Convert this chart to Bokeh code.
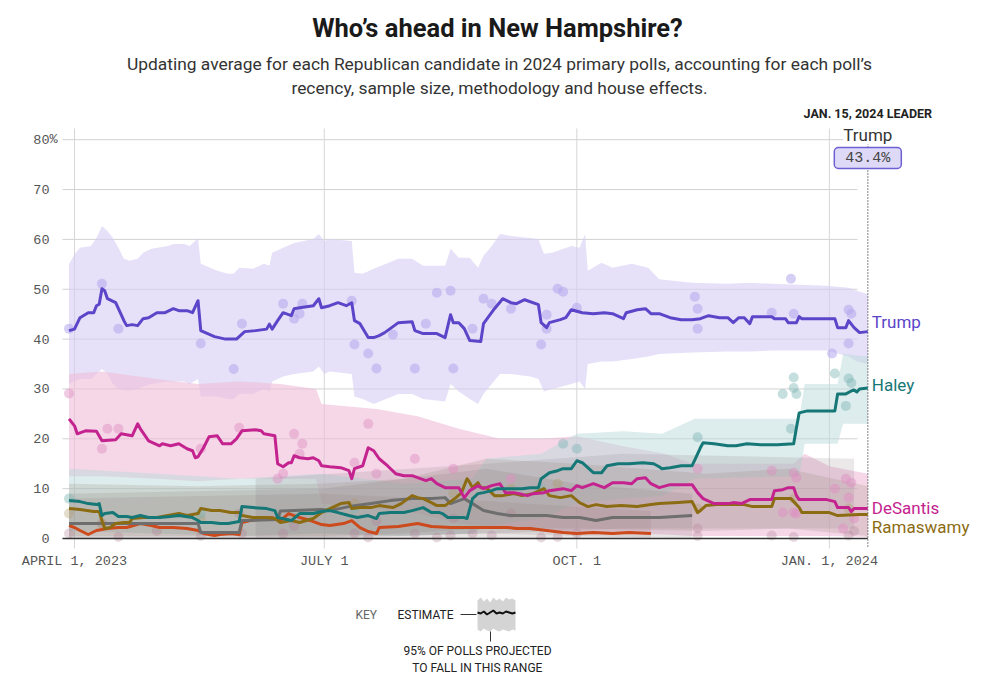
import numpy as np
from bokeh.plotting import figure
from bokeh.models import Range1d, Label
from bokeh.core.properties import value
from bokeh.embed import file_html
from bokeh.resources import INLINE

# ---------------- data (days counted from 2023-04-01) ----------------
START_DATE = "2023-04-01"
LEADER_DAY = 289                      # Jan. 15, 2024
LEADER_NAME = "Trump"
LEADER_TEXT = "43.4%"

x_tick_days = [0, 91, 183, 275]
x_tick_labels = ["APRIL 1, 2023", "JULY 1", "OCT. 1", "JAN. 1, 2024"]
y_ticks = [0, 10, 20, 30, 40, 50, 60, 70, 80]

trump_days = [-2,0,2,5,7,8,9,10,11,12,15,18,19,21,23,25,27,30,33,36,38,41,43,45,46,51,55,59,62,66,
              70,71,72,74,76,79,80,82,87,89,90,93,96,99,101,102,104,107,109,111,113,115,118,123,124,127,132,135,137,138,
              140,142,144,148,149,153,156,159,161,164,169,170,172,173,177,179,181,185,189,193,196,200,201,205,208,210,213,217,221,225,
              228,231,235,238,240,242,244,246,247,254,255,259,260,263,264,265,277,278,281,282,284,286,289]
trump_vals = [41.7,42.0,44.3,45.3,45.3,46.7,47.0,50.1,49.7,48.1,47.3,43.7,42.7,42.9,42.7,44.1,44.3,45.3,45.3,46.1,45.7,45.7,45.3,47.7,41.7,40.5,40.0,40.0,41.5,41.7,
              42.0,43.0,42.0,43.7,45.3,44.7,46.1,46.3,46.7,48.1,46.3,46.7,47.3,46.7,47.3,43.7,43.1,40.3,40.3,40.7,41.3,42.1,43.3,43.5,41.7,41.1,41.1,40.3,44.9,43.3,
              43.3,42.1,39.7,39.5,43.1,46.1,48.1,47.3,47.1,47.9,46.9,43.3,42.3,43.3,43.9,44.3,45.9,45.3,45.1,45.3,45.1,44.1,45.3,45.9,46.1,45.1,45.1,44.3,43.9,43.9,
              44.1,44.7,44.3,44.3,43.3,44.3,44.3,43.1,44.5,44.5,44.1,44.1,43.3,43.3,44.5,44.1,44.1,42.3,42.3,43.7,42.3,41.3,41.5]

desantis_days = [-2,0,1,4,8,10,15,17,21,23,24,27,31,32,35,38,41,43,44,45,47,49,52,54,57,59,61,66,68,69,71,73,74,76,78,79,80,82,85,87,
                 89,90,93,97,100,101,102,105,107,109,111,114,117,120,123,125,128,130,132,135,140,142,144,147,149,152,155,157,160,162,
                 165,167,171,173,178,181,183,185,189,193,196,200,203,205,208,210,213,217,225,227,229,233,238,240,243,246,254,255,258,260,
                 262,263,264,274,277,278,282,283,284,286,289]
desantis_vals = [24.0,22.6,21.0,21.6,21.5,19.6,19.8,21.0,20.6,23.0,22.0,19.6,18.6,19.0,18.6,19.0,18.0,17.6,16.2,16.4,18.2,20.4,20.6,19.0,19.0,20.0,21.6,21.8,21.6,21.0,20.8,20.6,15.0,14.4,15.2,15.2,16.6,16.2,16.0,16.2,
                 15.6,14.6,14.4,14.2,13.6,12.0,14.0,14.6,18.2,17.6,16.0,14.6,13.0,12.6,12.6,12.2,11.6,12.0,11.0,10.2,10.2,8.2,9.6,10.6,10.0,10.6,11.0,9.2,9.2,9.0,
                 8.6,9.0,9.2,9.6,10.0,9.6,10.6,10.2,11.0,10.2,11.2,11.2,11.0,12.0,12.2,11.0,10.2,10.8,10.8,9.2,8.0,7.0,7.0,7.2,7.0,7.8,7.8,9.6,9.8,10.2,
                 10.2,8.6,7.8,7.8,7.4,6.2,6.2,5.4,6.0,6.0,6.0]

haley_days = [-2,2,5,8,9,10,11,14,16,19,21,24,27,31,35,38,43,45,46,50,53,56,58,60,61,65,70,73,74,79,82,87,90,93,96,100,103,107,110,111,
              115,120,123,127,130,133,134,136,139,142,143,145,147,149,152,154,159,163,166,169,170,173,176,178,181,183,185,189,192,194,
              198,202,207,211,213,214,217,221,225,227,228,229,233,238,241,245,250,256,262,263,264,267,277,278,281,283,284,285,286,289]
haley_vals = [7.6,7.4,7.0,6.8,7.0,4.6,5.0,5.2,4.4,4.4,4.2,4.6,4.2,4.2,4.4,4.6,4.2,3.6,3.2,3.2,3.0,3.0,3.2,3.4,6.4,6.2,6.0,5.6,4.2,3.6,5.0,5.0,5.4,5.6,5.2,4.6,4.2,4.6,4.0,5.0,
              5.2,5.2,5.6,6.2,5.2,5.2,5.0,4.2,4.2,4.2,4.0,8.0,9.0,9.2,9.6,10.0,10.0,10.0,10.2,10.2,12.0,13.2,13.6,14.0,14.0,15.6,15.2,13.2,13.2,14.6,
              15.0,15.0,15.2,15.0,14.4,14.0,14.2,14.6,14.6,17.0,18.2,19.2,19.0,18.6,18.6,19.0,18.8,18.8,19.0,22.2,25.2,25.6,25.6,29.0,29.0,29.6,29.8,29.4,30.0,30.2]

ramaswamy_days = [-2,2,7,9,10,11,13,15,18,20,21,25,30,34,38,41,45,46,50,53,57,60,61,65,70,73,75,79,82,87,90,93,97,100,101,104,108,111,116,119,
                  123,125,127,130,132,135,139,141,143,144,145,147,148,150,153,156,160,163,167,171,173,177,181,184,187,190,194,199,205,210,
                  213,220,225,227,228,230,234,244,247,254,255,261,264,265,275,278,286,289]
ramaswamy_vals = [6.0,5.8,5.4,5.4,3.6,2.0,2.2,3.0,3.2,3.2,4.0,4.2,4.2,4.6,5.0,4.6,5.0,6.0,5.6,5.6,5.2,5.2,4.6,4.2,4.2,4.0,3.2,3.6,3.2,4.0,5.2,6.0,7.0,7.2,6.0,6.2,6.2,6.6,6.2,7.0,
                  8.6,8.2,8.0,7.2,6.6,6.6,8.2,9.2,12.0,11.2,10.2,11.2,10.2,10.2,8.6,8.6,9.0,8.6,9.0,10.0,8.6,8.2,8.6,7.2,6.4,6.8,6.4,6.6,6.4,6.8,
                  7.0,7.2,7.4,5.2,5.6,6.6,6.8,6.8,6.4,6.4,8.0,8.0,6.2,5.2,5.2,4.6,4.8,4.8]

scott_days = [-2,45,46,60,61,74,75,90,93,100,108,115,123,130,135,137,140,142,145,149,154,159,166,172,178,184,190,196,202,209,213,219,225]
scott_vals = [3.0,3.0,1.2,1.2,3.6,3.8,5.5,5.8,5.6,6.4,7.0,7.6,8.0,8.0,8.2,7.0,7.6,8.0,7.0,5.6,5.0,4.6,4.6,4.6,4.2,4.2,3.6,4.2,4.2,4.2,4.2,4.4,4.6]

pence_days = [-2,0,2,5,8,12,16,19,24,28,31,36,41,45,47,51,53,57,60,61,64,69,72,75,78,80,82,86,90,93,
              98,101,104,107,110,111,118,125,130,137,144,152,158,161,166,172,178,183,189,196,202,210]
pence_vals = [2.6,2.2,1.6,0.8,1.6,2.0,2.2,2.2,3.0,2.6,2.2,2.2,2.0,1.6,1.0,0.6,0.8,1.0,0.8,3.2,3.6,4.0,4.2,3.6,5.0,4.6,4.2,3.6,2.8,2.6,
              3.0,3.6,2.2,1.4,1.0,2.2,2.4,3.0,2.4,2.2,2.2,2.2,2.2,2.0,2.0,1.6,1.2,1.0,1.2,1.0,1.2,1.0]

# 95% ranges
trump_band_days = [-2,0,2,6,8,10,12,14,16,18,20,23,25,28,34,36,40,42,45,46,52,56,58,60,65,69,71,72,76,80,
                   87,89,91,93,101,102,105,109,118,123,127,135,137,140,144,147,149,152,155,159,166,169,171,174,181,184,186,187,192,196,
                   203,209,213,225,238,246,254,274,282,285,289]
trump_band_lo = [31,31.5,32,32,33,34,33,31,30,29.7,29.7,30,30.5,31,31.5,31.5,31.5,31,32,28.5,28.5,28,28,29,29,30,29.5,31.5,32.5,33,
                 33.5,34.5,33,33.5,33,28.5,28,27,29,29,28,27.5,31,29.5,28,27,29,31,33,33,32.5,32,29.5,30,31,31.5,30,35,35.5,35.5,
                 36,36.5,37,37.3,37.5,37.5,37.7,37.7,36.5,35.5,35]
trump_band_hi = [55,57,58.3,58.7,60.3,62.7,61.7,60.3,58.3,56.1,55.7,56.1,57.3,58.1,58.7,59.1,59.1,58.7,60.3,55.1,53.7,53.1,53.1,54.3,54.1,55.1,54.7,57.3,58.3,59.3,
                 60.1,61.1,59.7,60.1,59.7,53.3,53.1,54.1,56.1,56.1,54.7,54.7,58.1,56.3,56.3,54.3,56.7,58.7,61.1,60.7,60.3,60.1,57.1,57.3,58.7,58.3,61.1,53.7,55.3,54.3,
                 55.1,54.3,52,51.3,51.1,51.3,51.1,50.7,50.3,49.7,49]

desantis_band_days = [-2,10,30,45,60,75,88,90,110,125,140,155,170,183,200,215,225,262,266,275,289]
desantis_band_lo = [12.5,12.5,12,11.5,12,12,12,7,6,5,3,2,1.5,1,1,0.8,0.5,0.5,0.5,0.5,0.3]
desantis_band_hi = [33,33.5,32,31,31.5,31,30,27,26,24.5,22,20,20,20.5,18.5,17,15,15,17,14.5,13]

haley_band_days = [-2,30,60,90,120,145,150,170,183,200,214,226,264,266,278,280,289]
haley_band_lo = [1.5,1,0.5,1,0.5,1,2.5,4,7,8,8.5,12,12.5,19,19,23,23]
haley_band_hi = [14,13,12,13,11,12,16,17,21,21.5,21,24,24,31,31,37,36.5]

ramaswamy_band_days = [-2,45,90,120,150,183,230,260,289]
ramaswamy_band_lo = [0.5,0.5,0.5,1,2,2,1.5,2,0.5]
ramaswamy_band_hi = [11,10.5,11,12,16,15,13,14,10.5]

scott_band_days = [-2,90,150,183,225]
scott_band_lo = [0,0,1,0.5,0]
scott_band_hi = [9,10,14,11,9]

pence_band_days = [-2,90,150,210]
pence_band_lo = [0,0,0,0]
pence_band_hi = [8,9,7.5,5.5]

christie_band_days = [66,150,200,284]
christie_band_lo = [0,1,2,2]
christie_band_hi = [12,15,17,16]

# individual polls
trump_poll_days = [-2,10,16,46,58,61,76,80,82,83,101,102,107,110,116,124,128,132,137,138,
                   145,149,152,159,170,172,172,176,178,183,226,227,227,254,261,262,276,282,282,283]
trump_poll_vals = [42.1,51.1,42.1,39.1,34.0,43.1,47.1,44.1,45.1,47.1,47.7,38.9,37.1,34.1,40.9,34.1,43.1,49.3,49.7,34.1,
                   42.1,48.1,47.1,46.1,38.9,44.9,42.1,50.1,49.5,46.3,48.5,46.1,42.1,45.3,52.1,45.1,37.1,45.9,39.1,45.1]
desantis_poll_days = [-2,10,12,16,46,60,74,76,80,83,82,102,107,110,124,138,159,227,254,262,263,258,262,263,281,282,283,284,277,280]
desantis_poll_vals = [29.1,18.0,22.0,22.0,18.0,22.2,12.0,13.0,21.0,19.0,17.0,15.2,23.0,13.0,16.0,14.0,12.0,14.0,13.6,13.2,
                      12.2,5.2,5.2,5.0,12.0,8.2,11.2,4.0,10.0,2.0]
haley_poll_days = [-2,46,102,170,178,183,227,258,261,262,262,263,277,281,282,283]
haley_poll_vals = [8.0,5.0,6.0,10.0,19.0,18.0,20.3,29.0,22.0,30.2,32.3,29.0,33.1,26.6,32.1,31.2]
ramaswamy_poll_days = [-2,10,46,102,138,159,176,227,262,282]
ramaswamy_poll_vals = [5.0,3.0,4.0,7.0,9.0,10.0,11.0,6.0,8.0,6.0]
other_poll_days = [-2,10,16,30,46,61,76,80,102,107,110,124,132,137,145,152,170,176,183,227,227,254,262,282,284,138,159,60]
other_poll_vals = [1.0,3.0,0.3,1.5,0.5,1.0,1.0,2.5,1.0,0.2,3.5,1.0,0.2,0.6,1.0,0.6,0.2,0.3,1.0,2.0,0.5,0.6,0.3,0.6,1.5,4.0,5.0,5.0]

end_names = ["Trump", "Haley", "DeSantis", "Ramaswamy"]
end_label_vals = [43.5, 30.7, 6.2, 2.4]

# key sample (pixel wiggle of the legend swatch)
key_wiggle = [0, 1, -1, 2, 0, -2, 1, 0, 1, -1, 0, 1, 0]
key_top = [3, 0, 4, 1, 5, 0, 3, 1, 4, 0, 2, 1, 3]
key_bottom = [2, 0, 3, 1, 0, 3, 1, 0, 2, 1, 0, 2, 1]

# ---------------- styles ----------------
C_TRUMP, C_DES, C_HALEY, C_RAMA = "#5b45c9", "#c4238f", "#167777", "#8c6c12"
C_SCOTT, C_PENCE = "#6e6e6e", "#cc4a1c"

W, H = 984, 676
PAGE_OFF = 0                 # canvas origin on the photographed page
PX_PER_DAY = 2.745
PX_PER_PT = 4.985
X0_PX, Y0_PX = 74, 538       # page pixel of day 0 and of 0%
DAY_MS = 86400000.0
START_MS = float(np.datetime64(START_DATE, "ms").astype(np.int64))


def tx(days):
    return START_MS + np.asarray(days, dtype=float) * DAY_MS


def LX(px):
    return tx((np.asarray(px, dtype=float) - X0_PX) / PX_PER_DAY)


def LY(py):
    return (Y0_PX - np.asarray(py, dtype=float)) / PX_PER_PT


x_start = float(LX(PAGE_OFF))
x_end = x_start + W / PX_PER_DAY * DAY_MS
y_end = float(LY(PAGE_OFF))
y_start = y_end - H / PX_PER_PT

p = figure(width=W, height=H, x_range=Range1d(x_start, x_end), y_range=Range1d(y_start, y_end),
           x_axis_location=None, y_axis_location=None, toolbar_location=None,
           output_backend="svg", min_border=0, outline_line_color=None)
p.xgrid.visible = False
p.ygrid.visible = False

MONO = value("Liberation Mono")
SANS = value("Roboto")

# grid
gx0 = float(LX(62))
gx1 = float(LX(857))
p.segment(x0=[gx0] * 8, y0=y_ticks[1:], x1=[gx1] * 8, y1=y_ticks[1:], line_color="#d2d2d2", line_width=1)
p.segment(x0=tx(x_tick_days), y0=[float(LY(128))] * 4, x1=tx(x_tick_days), y1=[float(LY(548))] * 4,
          line_color="#d6d6d6", line_width=1)

# bands
bands = [
    (trump_band_days, trump_band_lo, trump_band_hi, "#d6cff4", 0.62),
    (desantis_band_days, desantis_band_lo, desantis_band_hi, "#efbcd9", 0.6),
    (haley_band_days, haley_band_lo, haley_band_hi, "#bcdada", 0.5),
    (ramaswamy_band_days, ramaswamy_band_lo, ramaswamy_band_hi, "#9c8f7c", 0.22),
    (scott_band_days, scott_band_lo, scott_band_hi, "#8c8084", 0.2),
    (pence_band_days, pence_band_lo, pence_band_hi, "#9a8080", 0.2),
    (christie_band_days, christie_band_lo, christie_band_hi, "#8c8084", 0.18),
]
for d, lo, hi, col, a in bands:
    p.varea(x=tx(d), y1=lo, y2=hi, fill_color=col, fill_alpha=a)

# polls
polls = [
    (other_poll_days, other_poll_vals, "#b07d95", 0.3),
    (ramaswamy_poll_days, ramaswamy_poll_vals, "#b09a66", 0.35),
    (haley_poll_days, haley_poll_vals, "#7fb6b6", 0.45),
    (desantis_poll_days, desantis_poll_vals, "#e08cc0", 0.45),
    (trump_poll_days, trump_poll_vals, "#b3a7ec", 0.55),
]
for d, v, col, a in polls:
    p.scatter(x=tx(d), y=v, size=10, fill_color=col, fill_alpha=a, line_color=None)

# zero line and leader marker
p.segment(x0=[gx0], y0=[0], x1=[float(tx(LEADER_DAY))], y1=[0], line_color="#333333", line_width=1.4)
p.segment(x0=[float(tx(LEADER_DAY))], y0=[float(LY(143))], x1=[float(tx(LEADER_DAY))], y1=[float(LY(546))],
          line_color="#444444", line_width=1.3, line_dash="1 2")

# lines
lines = [
    (pence_days, pence_vals, C_PENCE),
    (scott_days, scott_vals, C_SCOTT),
    (ramaswamy_days, ramaswamy_vals, C_RAMA),
    (desantis_days, desantis_vals, C_DES),
    (haley_days, haley_vals, C_HALEY),
    (trump_days, trump_vals, C_TRUMP),
]
for d, v, col in lines:
    p.line(x=tx(d), y=v, line_color=col, line_width=3, line_join="round")

# end labels
p.text(x=[float(tx(LEADER_DAY))] * 4, y=end_label_vals, text=end_names, x_offset=4,
       text_color=[C_TRUMP, C_HALEY, C_DES, C_RAMA], text_font=SANS, text_font_size="17px",
       text_baseline="middle", text_align="left")

# axis labels
p.text(x=[float(LX(49))] * len(y_ticks), y=y_ticks, text=[str(t) for t in y_ticks],
       text_align="right", text_baseline="middle", text_font=MONO, text_font_size="13.5px", text_color="#555555")
p.text(x=[float(LX(49))], y=[y_ticks[-1]], text=["%"], text_align="left", text_baseline="middle",
       text_font=MONO, text_font_size="13.5px", text_color="#555555")
p.text(x=tx(x_tick_days), y=[float(LY(561))] * 4, text=x_tick_labels, text_align="center",
       text_baseline="middle", text_font=MONO, text_font_size="13.5px", text_color="#555555")

# titles
p.text(x=[float(LX(497))], y=[float(LY(27))], text=["Who\u2019s ahead in New Hampshire?"], text_align="center",
       text_baseline="middle", text_font=SANS, text_font_style="bold", text_font_size="25.5px", text_color="#1a1a1a")
p.text(x=[float(LX(499))] * 2, y=[float(LY(63)), float(LY(87))],
       text=["Updating average for each Republican candidate in 2024 primary polls, accounting for each poll\u2019s",
             "recency, sample size, methodology and house effects."],
       text_align="center", text_baseline="middle", text_font=SANS, text_font_size="17.4px", text_color="#333333")

# leader callout
p.text(x=[float(tx(LEADER_DAY))], y=[float(LY(113))], text=["JAN. 15, 2024 LEADER"], text_align="center",
       text_baseline="middle", text_font=SANS, text_font_style="bold", text_font_size="12.5px", text_color="#222222")
p.add_layout(Label(x=float(tx(LEADER_DAY)), y=float(LY(134)), text=LEADER_NAME, text_align="center",
                   text_baseline="middle", text_font="Roboto", text_font_size="17px", text_color="#333333",
                   background_fill_color="white"))
p.add_layout(Label(x=float(tx(LEADER_DAY)), y=float(LY(157.5)), text=LEADER_TEXT, text_align="center",
                   text_baseline="middle", text_font="Liberation Mono", text_font_size="15px", text_color="#444444",
                   background_fill_color="#ddd9f7", border_line_color="#6e5fd3", border_line_width=1.5,
                   padding=(11, 2), border_radius=4))

# key
n = len(key_wiggle)
kx = LX(np.linspace(477, 515, n))
p.varea(x=kx, y1=LY(631 - np.array(key_bottom)), y2=LY(597 + np.array(key_top)), fill_color="#cfcfcf", fill_alpha=0.9)
p.line(x=kx, y=LY(612 + np.array(key_wiggle)), line_color="#111111", line_width=2)
p.segment(x0=[float(LX(460))], y0=[float(LY(614))], x1=[float(LX(476))], y1=[float(LY(614))], line_color="#333333", line_width=1)
p.segment(x0=[float(LX(490))], y0=[float(LY(631))], x1=[float(LX(490))], y1=[float(LY(641))], line_color="#333333", line_width=1)
p.text(x=[float(LX(355)), float(LX(397))], y=[float(LY(614))] * 2, text=["KEY", "ESTIMATE"], text_align="left",
       text_baseline="middle", text_font=SANS, text_font_size="12px", text_color=["#666666", "#222222"])
p.text(x=[float(LX(477))] * 2, y=[float(LY(650)), float(LY(667))],
       text=["95% OF POLLS PROJECTED", "TO FALL IN THIS RANGE"], text_align="center", text_baseline="middle",
       text_font=SANS, text_font_size="12px", text_color="#222222")

open("out.html", "w").write(file_html(p, INLINE))
